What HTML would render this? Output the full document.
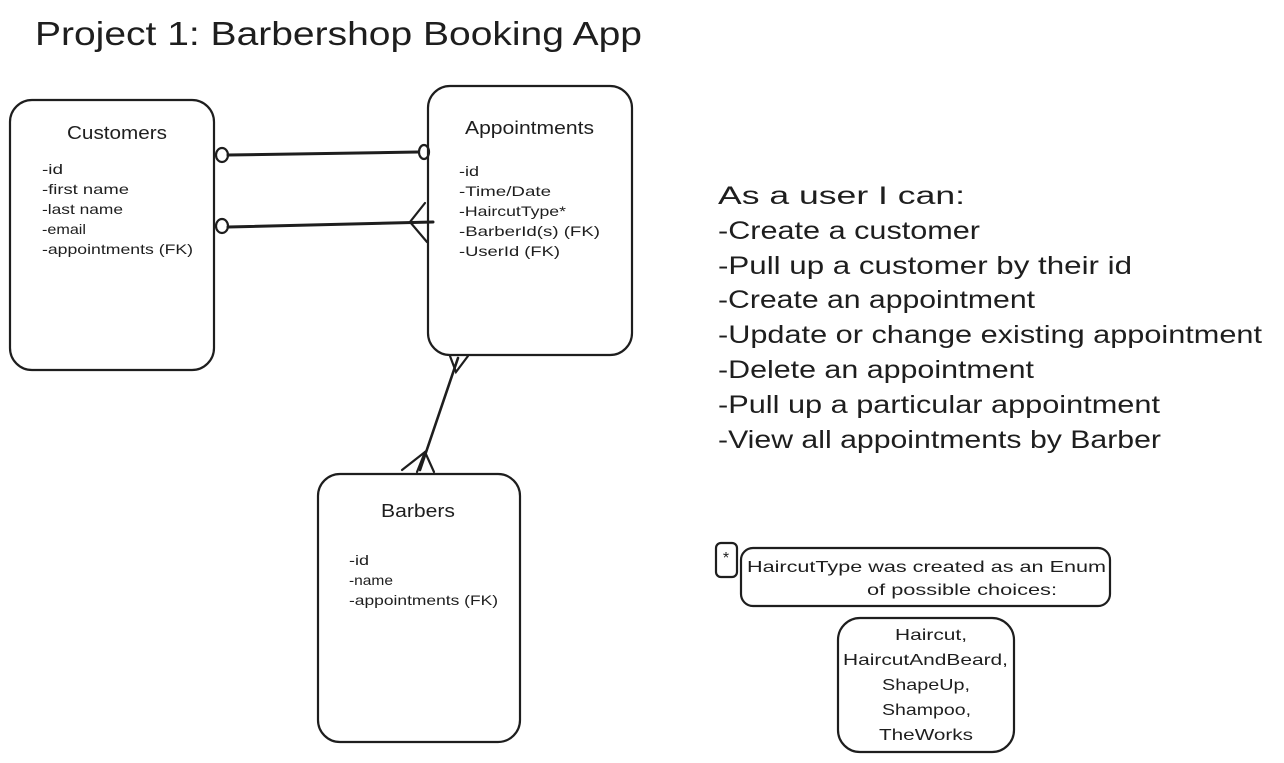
<!DOCTYPE html>
<html><head><meta charset="utf-8"><style>
html,body{margin:0;padding:0;background:#fff;}
svg{display:block;}
text{font-family:"Liberation Sans",sans-serif;fill:#1e1e1e;}
</style></head><body>
<svg width="1284" height="763" viewBox="0 0 1284 763" xmlns="http://www.w3.org/2000/svg">
<g fill="none" stroke="#1e1e1e" stroke-width="2.2" stroke-linecap="round">
<rect x="10" y="100" width="204" height="270" rx="22"/>
<rect x="428" y="86" width="204" height="269" rx="22"/>
<rect x="318" y="474" width="202" height="268" rx="22"/>
<rect x="716" y="543" width="21" height="34" rx="5"/>
<rect x="741" y="548" width="369" height="58" rx="12"/>
<rect x="838" y="618" width="176" height="134" rx="22"/>
<line x1="228" y1="155" x2="418" y2="152" stroke-width="3"/>
<ellipse cx="222" cy="155" rx="6" ry="7"/>
<ellipse cx="424" cy="152" rx="5" ry="7"/>
<line x1="228" y1="227" x2="433" y2="222" stroke-width="3"/>
<ellipse cx="222" cy="226" rx="6" ry="7"/>
<polyline points="425,203 410,222 427,242"/>
<line x1="458" y1="358" x2="420" y2="470" stroke-width="2.6"/>
<polyline points="450,356 456,372 468,356"/>
<polyline points="402,470 425,452 434,472"/>
<line x1="425" y1="452" x2="417" y2="472"/>
</g>
<g lengthAdjust="spacingAndGlyphs">
<text x="35" y="45" font-size="33" textLength="607" lengthAdjust="spacingAndGlyphs">Project 1: Barbershop Booking App</text>
<text x="67" y="139" font-size="18" textLength="100" lengthAdjust="spacingAndGlyphs">Customers</text>
<g font-size="14">
<text x="42" y="174" textLength="21" lengthAdjust="spacingAndGlyphs">-id</text>
<text x="42" y="194" textLength="87" lengthAdjust="spacingAndGlyphs">-first name</text>
<text x="42" y="214" textLength="81" lengthAdjust="spacingAndGlyphs">-last name</text>
<text x="42" y="234" textLength="44" lengthAdjust="spacingAndGlyphs">-email</text>
<text x="42" y="254" textLength="151" lengthAdjust="spacingAndGlyphs">-appointments (FK)</text>
</g>
<text x="465" y="134" font-size="18" textLength="129" lengthAdjust="spacingAndGlyphs">Appointments</text>
<g font-size="14">
<text x="459" y="176" textLength="20" lengthAdjust="spacingAndGlyphs">-id</text>
<text x="459" y="196" textLength="92" lengthAdjust="spacingAndGlyphs">-Time/Date</text>
<text x="459" y="216" textLength="107" lengthAdjust="spacingAndGlyphs">-HaircutType*</text>
<text x="459" y="236" textLength="141" lengthAdjust="spacingAndGlyphs">-BarberId(s) (FK)</text>
<text x="459" y="256" textLength="101" lengthAdjust="spacingAndGlyphs">-UserId (FK)</text>
</g>
<text x="381" y="517" font-size="18" textLength="74" lengthAdjust="spacingAndGlyphs">Barbers</text>
<g font-size="14">
<text x="349" y="565" textLength="20" lengthAdjust="spacingAndGlyphs">-id</text>
<text x="349" y="585" textLength="44" lengthAdjust="spacingAndGlyphs">-name</text>
<text x="349" y="605" textLength="149" lengthAdjust="spacingAndGlyphs">-appointments (FK)</text>
</g>
<g font-size="25">
<text x="718" y="204" textLength="247" lengthAdjust="spacingAndGlyphs">As a user I can:</text>
<text x="718" y="239" textLength="262" lengthAdjust="spacingAndGlyphs">-Create a customer</text>
<text x="718" y="274" textLength="414" lengthAdjust="spacingAndGlyphs">-Pull up a customer by their id</text>
<text x="718" y="308" textLength="317" lengthAdjust="spacingAndGlyphs">-Create an appointment</text>
<text x="718" y="343" textLength="544" lengthAdjust="spacingAndGlyphs">-Update or change existing appointment</text>
<text x="718" y="378" textLength="316" lengthAdjust="spacingAndGlyphs">-Delete an appointment</text>
<text x="718" y="413" textLength="442" lengthAdjust="spacingAndGlyphs">-Pull up a particular appointment</text>
<text x="718" y="448" textLength="443" lengthAdjust="spacingAndGlyphs">-View all appointments by Barber</text>
</g>
<text x="726" y="563" font-size="16" text-anchor="middle">*</text>
<g font-size="16">
<text x="747" y="572" textLength="359" lengthAdjust="spacingAndGlyphs">HaircutType was created as an Enum</text>
<text x="867" y="595" textLength="190" lengthAdjust="spacingAndGlyphs">of possible choices:</text>
<text x="895" y="640" textLength="72" lengthAdjust="spacingAndGlyphs">Haircut,</text>
<text x="843" y="665" textLength="165" lengthAdjust="spacingAndGlyphs">HaircutAndBeard,</text>
<text x="882" y="690" textLength="88" lengthAdjust="spacingAndGlyphs">ShapeUp,</text>
<text x="882" y="715" textLength="89" lengthAdjust="spacingAndGlyphs">Shampoo,</text>
<text x="879" y="740" textLength="94" lengthAdjust="spacingAndGlyphs">TheWorks</text>
</g>
</g>
</svg>
</body></html>
